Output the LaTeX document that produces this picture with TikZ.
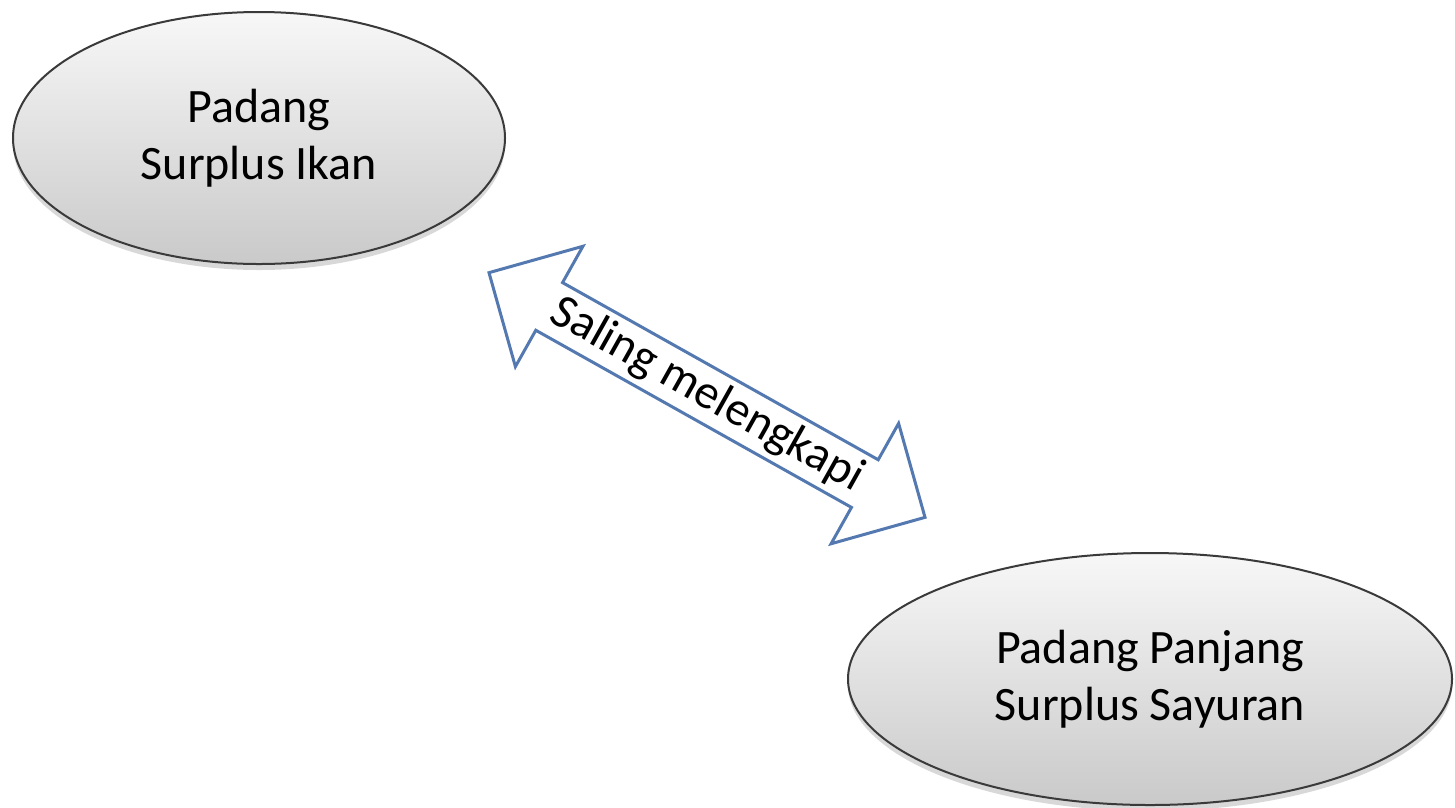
\documentclass[tikz,border=0pt]{standalone}
\usepackage{fontspec}
\setmainfont{Carlito}
\usetikzlibrary{shapes.geometric,shapes.arrows,shadows}
\definecolor{arrowblue}{HTML}{5479B0}
\definecolor{ellline}{HTML}{3A3A3A}
\tikzset{
  cityell/.style={ellipse, draw=ellline, line width=2pt, inner sep=0pt,
    top color=gray!6, bottom color=gray!42, align=center,
    font=\fontsize{48}{57}\selectfont,
    drop shadow={shadow xshift=0pt, shadow yshift=-6pt, opacity=0.3, fill=gray}},
  linkarrow/.style={double arrow, draw=arrowblue, line width=3pt, fill=white,
    inner sep=0pt, minimum height=500pt, minimum width=138pt,
    double arrow head extend=34pt, double arrow tip angle=90,
    font=\fontsize{48}{57}\selectfont}
}
\begin{document}
\begin{tikzpicture}[x=1pt,y=-1pt]
\useasboundingbox[fill=white] (0,0) rectangle (1455,807);
\node[cityell, minimum width=492pt, minimum height=252pt] (padang) at (259,138)
  {Padang\\Surplus Ikan};
\node[cityell, minimum width=604pt, minimum height=252pt] (panjang) at (1150,679)
  {Padang Panjang\\Surplus Sayuran};
\node[linkarrow, rotate=-29.3] (link) at (707,395) {Saling melengkapi};
\end{tikzpicture}
\end{document}
